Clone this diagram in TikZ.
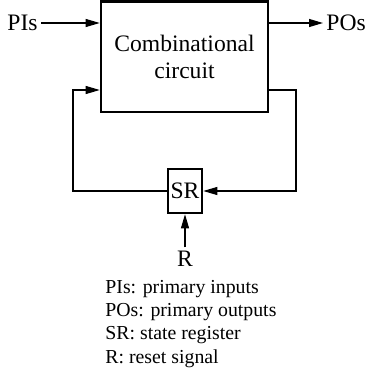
\documentclass[tikz,border=0pt]{standalone}
\usepackage{fontspec}
\setmainfont{Liberation Serif}
\usetikzlibrary{arrows.meta, positioning}

\begin{document}
\begin{tikzpicture}[x=0.5pt, y=-0.5pt,
    box/.style={rectangle, draw, line width=1.3pt, inner sep=0pt, align=center,
      font=\fontsize{11.8}{13.5}\selectfont},
    lbl/.style={inner sep=1.5pt, font=\fontsize{11.8}{13.5}\selectfont},
    legend/.style={inner sep=0pt, align=left, font=\fontsize{9.9}{11.67}\selectfont},
    arrow/.style={-{Triangle[length=7pt,width=4pt]}, line width=0.55pt},
  ]
    \useasboundingbox (0,0) rectangle (369,375);

    \node[box, minimum width=83.5pt, minimum height=55.25pt] (comb) at (184.5,56.75) {Combinational\\circuit};
    \node[box, minimum width=17pt, minimum height=22pt] (sr) at (185,191) {SR};
    \node[lbl, anchor=east] (pis) at (41,23) {PIs};
    \node[lbl, anchor=west] (pos) at (323,23) {POs};
    \node[lbl] (r) at (185,258.5) {R};
    \node[legend, anchor=north west] (key) at (105,279.5)
      {PIs: primary inputs\\POs: primary outputs\\SR: state register\\R: reset signal};

    % feedback loop through the state register
    \coordinate (fb) at (0,90);
    \coordinate (outR) at (296,191);
    \coordinate (inL) at (73,191);

    \draw[arrow] (pis.east) -- (pis.east -| comb.west);
    \draw[arrow] (pos.west -| comb.east) -- (pos.west);
    \draw[arrow] (comb.east |- fb) -| (outR) -- (sr.east);
    \draw[arrow] (sr.west) -- (inL) |- (comb.west |- fb);
    \draw[arrow] (r) -- (sr);
  \end{tikzpicture}
\end{document}
